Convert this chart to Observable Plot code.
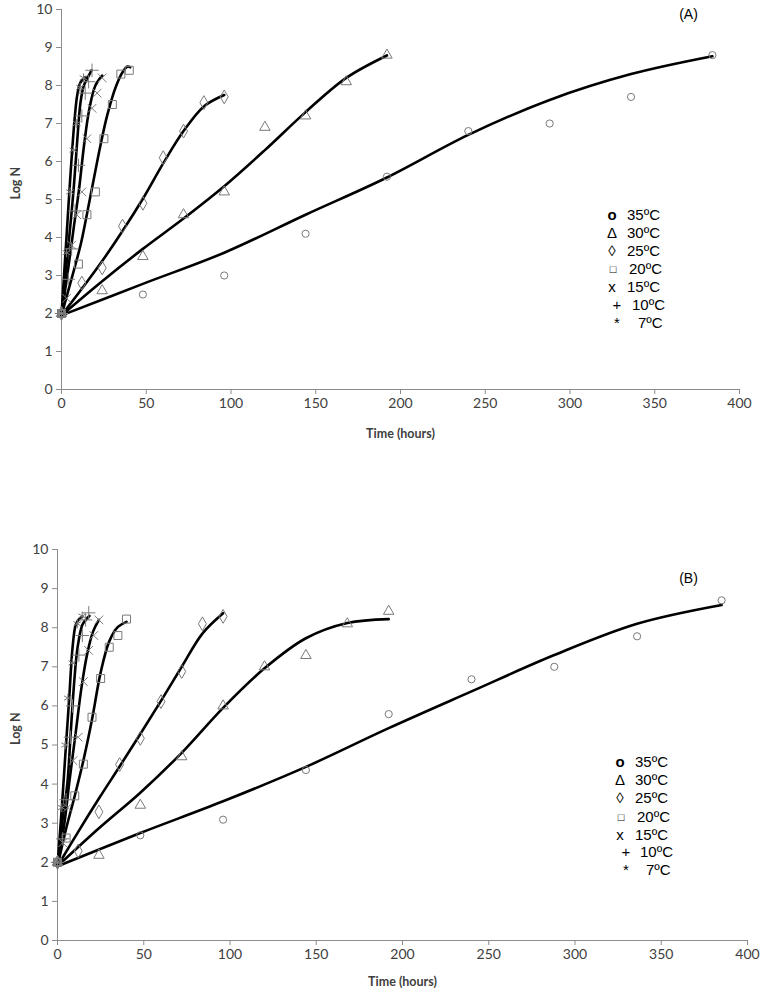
<!DOCTYPE html>
<html><head><meta charset="utf-8">
<script src="https://cdn.jsdelivr.net/npm/d3@7"></script>
<script src="https://cdn.jsdelivr.net/npm/@observablehq/plot@0.6"></script>
<style>
body{margin:0;background:#fff;}
#wrap{position:relative;width:762px;height:999px;overflow:hidden;}
#wrap svg{display:block;}
.lg{position:absolute;font-family:"Liberation Sans",Arial,sans-serif;font-size:15px;color:#000;line-height:18px;white-space:nowrap;}
.lg span{position:absolute;top:0;}
</style></head><body><div id="wrap"></div>
<script>
// ---------- shared ticks ----------
const xTicks = [0, 50, 100, 150, 200, 250, 300, 350, 400];
const yTicks = [0, 1, 2, 3, 4, 5, 6, 7, 8, 9, 10];
const seriesNames = ["35ºC", "30ºC", "25ºC", "20ºC", "15ºC", "10ºC", "7ºC"];
const legendSymbols = ["o", "Δ", "◊", "□", "x", "+", "*"];

// ---------- Panel (A) observed points ----------
const A35_t = [0, 48, 96, 144, 192, 240, 288, 336, 384];
const A35_v = [2.0, 2.5, 3.0, 4.1, 5.6, 6.8, 7.0, 7.7, 8.8];
const A30_t = [0, 24, 48, 72, 96, 120, 144, 168, 192];
const A30_v = [2.0, 2.6, 3.5, 4.6, 5.2, 6.9, 7.2, 8.1, 8.8];
const A25_t = [0, 12, 24, 36, 48, 60, 72, 84, 96];
const A25_v = [2.0, 2.8, 3.2, 4.3, 4.9, 6.1, 6.8, 7.55, 7.7];
const A20_t = [0, 10, 15, 20, 25, 30, 35, 40];
const A20_v = [2.0, 3.3, 4.6, 5.2, 6.6, 7.5, 8.3, 8.4];
const A15_t = [0, 3, 6, 9, 12, 15, 18, 21, 24];
const A15_v = [2.0, 2.4, 3.8, 4.6, 5.2, 6.6, 7.4, 7.8, 8.2];
const A10_t = [0, 4, 6, 8, 10, 12, 14, 16, 18];
const A10_v = [2.0, 2.9, 3.7, 4.7, 5.9, 7.2, 7.8, 8.1, 8.4];
const A7_t = [0, 3, 5, 7, 9, 11, 13];
const A7_v = [2.0, 3.6, 5.2, 6.3, 7.0, 7.95, 8.2];

// ---------- Panel (A) fitted curves ----------
const A35_ct = [0, 48, 96, 144, 192, 240, 288, 336, 384];
const A35_cv = [1.95, 2.78, 3.6, 4.6, 5.58, 6.7, 7.62, 8.3, 8.77];
const A30_ct = [0, 24, 48, 72, 96, 120, 144, 168, 192];
const A30_cv = [1.95, 2.85, 3.7, 4.5, 5.35, 6.3, 7.3, 8.2, 8.79];
const A25_ct = [0, 12, 24, 36, 48, 60, 72, 84, 96];
const A25_cv = [1.95, 2.65, 3.38, 4.17, 5.02, 5.95, 6.8, 7.45, 7.75];
const A20_ct = [0, 4, 8, 11.5, 14.5, 18, 23, 27, 32, 36, 39, 40.5];
const A20_cv = [1.95, 2.6, 3.25, 3.85, 4.5, 5.3, 6.43, 7.22, 7.96, 8.35, 8.5, 8.48];
const A15_ct = [0, 4, 7.5, 10.3, 13.5, 16.5, 20, 24];
const A15_cv = [1.95, 3.2, 4.35, 5.25, 6.5, 7.4, 8.0, 8.26];
const A10_ct = [0, 3, 5.5, 7.3, 9.3, 11.2, 13.2, 16.1, 17.7];
const A10_cv = [1.95, 3.3, 4.45, 5.35, 6.56, 7.55, 8.0, 8.26, 8.4];
const A7_ct = [0, 2, 3.5, 4.7, 6.3, 7.8, 9.3, 11.2, 14.2];
const A7_cv = [1.95, 3.35, 4.4, 5.25, 6.3, 7.15, 7.75, 8.08, 8.22];

// ---------- Panel (B) observed points ----------
const B35_t = [0, 48, 96, 144, 192, 240, 288, 336, 385];
const B35_v = [2.0, 2.69, 3.09, 4.36, 5.79, 6.68, 7.0, 7.78, 8.7];
const B30_t = [0, 24, 48, 72, 96, 120, 144, 168, 192];
const B30_v = [2.0, 2.18, 3.46, 4.7, 6.0, 7.0, 7.29, 8.1, 8.42];
const B25_t = [0, 12, 24, 36, 48, 60, 72, 84, 96];
const B25_v = [2.0, 2.29, 3.29, 4.5, 5.17, 6.11, 6.88, 8.1, 8.29];
const B20_t = [0, 5, 10, 15, 20, 25, 30, 35, 40];
const B20_v = [2.0, 2.62, 3.7, 4.51, 5.71, 6.7, 7.5, 7.8, 8.22];
const B15_t = [0, 3, 6, 9, 12, 15, 18, 21, 24];
const B15_v = [2.0, 2.5, 3.4, 4.6, 5.2, 6.62, 7.42, 7.8, 8.2];
const B10_t = [0, 3, 5, 7.5, 8.7, 12.4, 14.4, 16.3, 18.1];
const B10_v = [2.0, 2.6, 3.6, 5.2, 6.0, 7.3, 7.8, 8.2, 8.38];
const B7_t = [0, 2.5, 4.5, 6, 8.6, 11.5, 14.3];
const B7_v = [2.0, 3.4, 5.0, 6.2, 7.1, 8.1, 8.3];

// ---------- Panel (B) fitted curves ----------
const B35_ct = [0, 48, 96, 144, 192, 240, 288, 336, 385];
const B35_cv = [1.9, 2.75, 3.56, 4.44, 5.43, 6.37, 7.3, 8.1, 8.58];
const B30_ct = [0, 24, 48, 72, 96, 120, 144, 168, 192];
const B30_cv = [1.9, 2.87, 3.78, 4.8, 5.95, 6.96, 7.73, 8.12, 8.22];
const B25_ct = [0, 12, 24, 36, 48, 60, 72, 84, 96];
const B25_cv = [1.9, 2.78, 3.63, 4.45, 5.28, 6.13, 7.0, 7.85, 8.37];
const B20_ct = [0, 5, 10, 15, 20, 25, 30, 35, 40];
const B20_cv = [1.9, 2.86, 3.7, 4.6, 5.65, 6.85, 7.65, 8.02, 8.15];
const B15_ct = [0, 4, 7, 10.5, 14, 17.3, 20.6, 24];
const B15_cv = [1.9, 3.0, 4.1, 5.3, 6.5, 7.35, 7.9, 8.2];
const B10_ct = [0, 3, 5.8, 7.7, 9.7, 11.6, 14.5, 17.4, 18.5];
const B10_cv = [1.9, 3.1, 4.06, 5.34, 6.62, 7.48, 8.08, 8.25, 8.3];
const B7_ct = [0, 2.5, 4.8, 6.8, 8.7, 10.6, 12.5, 14.5];
const B7_cv = [1.9, 3.4, 4.92, 6.2, 7.48, 8.08, 8.22, 8.29];

// ---------- helpers ----------
const rows = (ts, vs, s) => ts.map((t, i) => ({t, v: vs[i], s}));
const plotSymbols = ["circle", "triangle", "diamond", "square", "times", "plus", "asterisk"];
const symbolR = [3.6, 3.9, 4.2, 4.5, 4.0, 4.4, 4.2];

function panel(pts, curves, o) {
  const marks = [
    Plot.ruleY([0], {stroke: "#8c8c8c", strokeWidth: 1}),
    Plot.ruleX([0], {stroke: "#8c8c8c", strokeWidth: 1}),
    Plot.axisX({ticks: xTicks, tickSize: 5, stroke: "#8c8c8c", color: "#404040", fontSize: 14, tickPadding: 4, label: null}),
    Plot.axisY({ticks: yTicks, tickSize: 5, stroke: "#8c8c8c", color: "#404040", fontSize: 14, tickPadding: 4, label: null}),
    Plot.line(curves, {x: "t", y: "v", z: "s", stroke: "#000", strokeWidth: 2.6, curve: "catmull-rom"})
  ];
  seriesNames.forEach((name, i) => {
    marks.push(Plot.dot(pts.filter(d => d.s === name), {x: "t", y: "v", symbol: () => plotSymbols[i], r: symbolR[i], stroke: "#7a7a7a", strokeWidth: 1, fill: "none"}));
  });
  marks.push(Plot.text(["Time (hours)"], {text: d => d, frameAnchor: "bottom", dy: o.titleDy, fontSize: 12.5, fontWeight: "bold", fill: "#404040", fontFamily: "Lato, 'Open Sans', sans-serif"}));
  marks.push(Plot.text(["Log N"], {text: d => d, frameAnchor: "left", dx: o.logDx, rotate: -90, fontSize: 12.5, fontWeight: "bold", fill: "#404040", fontFamily: "Lato, 'Open Sans', sans-serif"}));
  marks.push(Plot.text([o.tag], {text: d => d, frameAnchor: "top-right", textAnchor: "middle", lineAnchor: "middle", dx: o.tagDx, dy: o.tagDy, fontSize: 14, fill: "#000", fontFamily: "'Liberation Sans', Arial, sans-serif"}));
  return Plot.plot({
    width: 762, height: o.height,
    marginTop: o.mt, marginBottom: o.mb, marginLeft: o.ml, marginRight: o.mr,
    style: {fontFamily: "Lato, 'Open Sans', sans-serif", background: "#fff"},
    x: {domain: [0, 400]},
    y: {domain: [0, 10]},
    symbol: {type: "identity"},
    marks
  });
}

const ptsA = [].concat(
  rows(A35_t, A35_v, "35ºC"), rows(A30_t, A30_v, "30ºC"), rows(A25_t, A25_v, "25ºC"),
  rows(A20_t, A20_v, "20ºC"), rows(A15_t, A15_v, "15ºC"), rows(A10_t, A10_v, "10ºC"), rows(A7_t, A7_v, "7ºC"));
const curA = [].concat(
  rows(A35_ct, A35_cv, "35ºC"), rows(A30_ct, A30_cv, "30ºC"), rows(A25_ct, A25_cv, "25ºC"),
  rows(A20_ct, A20_cv, "20ºC"), rows(A15_ct, A15_cv, "15ºC"), rows(A10_ct, A10_cv, "10ºC"), rows(A7_ct, A7_cv, "7ºC"));
const ptsB = [].concat(
  rows(B35_t, B35_v, "35ºC"), rows(B30_t, B30_v, "30ºC"), rows(B25_t, B25_v, "25ºC"),
  rows(B20_t, B20_v, "20ºC"), rows(B15_t, B15_v, "15ºC"), rows(B10_t, B10_v, "10ºC"), rows(B7_t, B7_v, "7ºC"));
const curB = [].concat(
  rows(B35_ct, B35_cv, "35ºC"), rows(B30_ct, B30_cv, "30ºC"), rows(B25_ct, B25_cv, "25ºC"),
  rows(B20_ct, B20_cv, "20ºC"), rows(B15_ct, B15_cv, "15ºC"), rows(B10_ct, B10_cv, "10ºC"), rows(B7_ct, B7_cv, "7ºC"));

const wrap = document.getElementById("wrap");
wrap.appendChild(panel(ptsA, curA, {height: 460, mt: 9, mb: 71, ml: 61, mr: 23, titleDy: 48, logDx: -46, tag: "(A)", tagDx: -51, tagDy: 5}));
wrap.appendChild(panel(ptsB, curB, {height: 539, mt: 89, mb: 59, ml: 57, mr: 15, titleDy: 45, logDx: -42, tag: "(B)", tagDx: -59, tagDy: 29}));

// ---------- legends (HTML, placed inside each panel) ----------
function legend(top, symX, txtX) {
  seriesNames.forEach((name, i) => {
    const row = document.createElement("div");
    row.className = "lg";
    row.style.top = (top[i] - 9) + "px";
    row.style.left = "0px";
    const s = document.createElement("span");
    s.textContent = legendSymbols[i];
    s.style.left = (symX[i] - 5) + "px";
    s.style.width = "10px";
    s.style.textAlign = "center";
    if (i === 3) s.style.fontSize = "11px";
    if (i === 0) s.style.fontWeight = "bold";
    const t = document.createElement("span");
    t.textContent = name;
    t.style.left = txtX[i] + "px";
    row.appendChild(s); row.appendChild(t);
    wrap.appendChild(row);
  });
}
legend([215, 233, 251, 269, 287, 305, 323], [612, 612, 612, 613, 612, 617, 617], [627, 627, 627, 629, 627, 632, 638]);
legend([762, 780, 798, 817, 835, 852, 870], [620, 620, 620, 621, 620, 626, 626], [635, 635, 635, 637, 635, 640, 646]);
</script>
</body></html>
